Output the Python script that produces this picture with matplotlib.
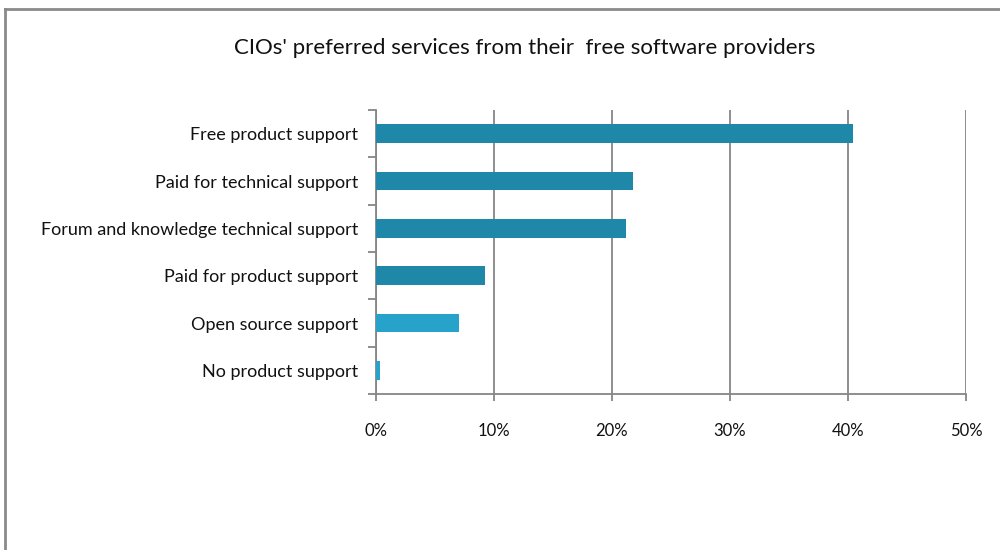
import matplotlib
matplotlib.use("Agg")
import matplotlib.pyplot as plt
from matplotlib.lines import Line2D
from matplotlib.ticker import FixedLocator, PercentFormatter

categories = [
    "Free product support",
    "Paid for technical support",
    "Forum and knowledge technical support",
    "Paid for product support",
    "Open source support",
    "No product support",
]
shares = [40.4, 21.8, 21.2, 9.2, 7.0, 0.3]
bar_colors = ["#1f87a7", "#1f87a7", "#1f87a7", "#1f87a7", "#27a2cb", "#27a2cb"]
x_ticks = [0, 10, 20, 30, 40, 50]

plt.rcParams["font.family"] = ["Lato", "DejaVu Sans"]

fig = plt.figure(figsize=(10, 5.5), dpi=100)
ax = fig.add_axes([0.376, 0.2836, 0.590, 0.5164])

ypos = list(range(len(categories)))[::-1]
ax.barh(ypos, shares, height=0.4, color=bar_colors, zorder=3)

ax.set_xlim(0, 50)
ax.set_ylim(-0.5, len(categories) - 0.5)
ax.set_xticks(x_ticks)
ax.xaxis.set_major_formatter(PercentFormatter(decimals=0))
ax.set_yticks(ypos)
ax.set_yticklabels(categories)
ax.yaxis.set_minor_locator(FixedLocator([i - 0.5 for i in range(len(categories) + 1)]))

ax.grid(axis="x", color="#868686", linewidth=1.3, zorder=0)
for side in ("top", "right"):
    ax.spines[side].set_visible(False)
for side in ("left", "bottom"):
    ax.spines[side].set_color("#868686")
    ax.spines[side].set_linewidth(1.3)

ax.tick_params(axis="y", which="major", length=0, pad=13, labelsize=13, labelcolor="#111111")
ax.tick_params(axis="y", which="minor", length=6, width=1.3, color="#868686")
ax.tick_params(axis="x", which="major", length=5, width=1.3, color="#868686",
               pad=16, labelsize=12, labelcolor="#111111")

fig.text(0.525, 0.913, "CIOs' preferred services from their  free software providers",
         ha="center", va="center", fontsize=16, color="#111111")

# chart frame along the top and left edges
fig.add_artist(Line2D([0.005, 1.0], [1 - 9 / 550, 1 - 9 / 550],
                      transform=fig.transFigure, color="#8a8a8a", linewidth=2))
fig.add_artist(Line2D([0.005, 0.005], [0.0, 1 - 9 / 550],
                      transform=fig.transFigure, color="#8a8a8a", linewidth=2))

fig.savefig("out.png", dpi=100)
